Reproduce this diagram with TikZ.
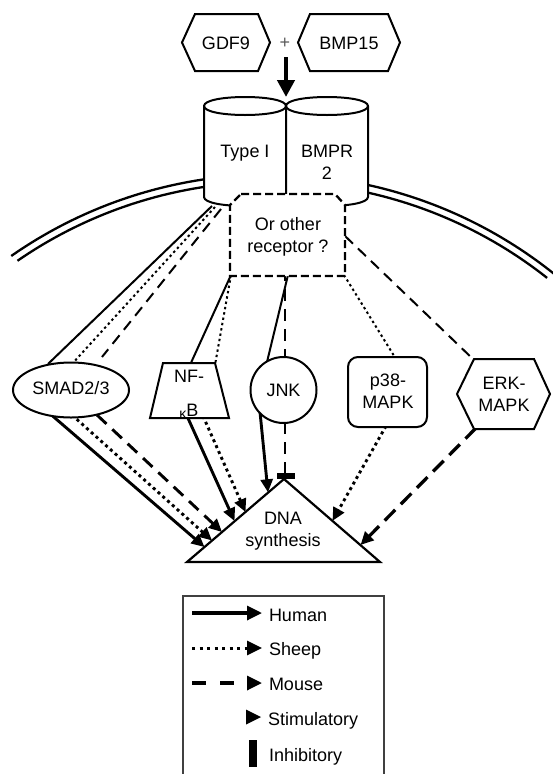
\documentclass[tikz,border=0pt]{standalone}
\usepackage{fontspec}
\setmainfont{Liberation Sans}
\usetikzlibrary{arrows.meta}
\begin{document}
\begin{tikzpicture}[x=1pt,y=-1pt,
  lbl/.style={font=\fontsize{18}{22}\selectfont, align=center, inner sep=0pt, outer sep=0pt},
  shp/.style={draw=black, line width=2pt, fill=white, line join=miter},
  mem/.style={line width=2.3pt},
  thinl/.style={line width=2pt},
  thickl/.style={line width=2.9pt},
  dotl/.style={dash pattern=on 2.4pt off 3pt},
  dotb/.style={dash pattern=on 3pt off 3.4pt},
  dashl/.style={dash pattern=on 11pt off 7pt},
  dashb/.style={dash pattern=on 13pt off 8pt},
  tip/.style={-{Triangle[length=13pt,width=12pt]}},
  ltip/.style={-{Triangle[length=15pt,width=14pt]}},
]
\useasboundingbox (0,0) rectangle (552,774);

% ---- membrane
\draw[mem] plot[domain=51.3:124.9, samples=150, smooth] ({270.7+453.5*cos(\x)},{627.9-453.5*sin(\x)});
\draw[mem] plot[domain=51.7:124.6, samples=150, smooth] ({270.7+446*cos(\x)},{627.9-446*sin(\x)});

% ---- named points
\coordinate (tIa) at (212,206);
\coordinate (tIb) at (215,207);
\coordinate (tIc) at (221,209);
\coordinate (smadA) at (48,364);
\coordinate (smadB) at (72,364);
\coordinate (smadC) at (102,357);
\coordinate (boxBL) at (231,275);
\coordinate (boxBM) at (288,275);
\coordinate (boxBMd) at (285,275);
\coordinate (boxBR) at (344,275);
\coordinate (boxR) at (345,236);
\coordinate (nfA) at (190,365);
\coordinate (nfB) at (215,365);
\coordinate (jnkA) at (267,362);
\coordinate (jnkB) at (285,358);
\coordinate (p38A) at (396,359);
\coordinate (erkA) at (474,360);
% lower
\coordinate (smadD) at (48,412);
\coordinate (smadE) at (72,415);
\coordinate (smadF) at (97,415);
\coordinate (nfC) at (187,416);
\coordinate (nfD) at (203,416);
\coordinate (jnkC) at (260,412);
\coordinate (jnkD) at (285,422);
\coordinate (p38B) at (386,426);
\coordinate (erkB) at (476,428);
\coordinate (dnaA) at (204.5,547);
\coordinate (dnaB) at (212,540.5);
\coordinate (dnaC) at (222,532);
\coordinate (dnaD) at (234.5,521);
\coordinate (dnaE) at (245.5,512);
\coordinate (dnaF) at (268,492.3);
\coordinate (dnaG) at (285,473);
\coordinate (dnaH) at (332.5,520.8);
\coordinate (dnaI) at (360.5,545);

% ---- DNA synthesis triangle
\draw[shp, line width=2.2pt] (284,479) -- (380,562) -- (187,562) -- cycle;
\node[lbl] (dna) at (283,531.5) {DNA\\synthesis};

% ---- lower arrows
\draw[thickl, tip] (smadD) -- (dnaA);
\draw[thickl, tip, dotb] (smadE) -- (dnaB);
\draw[thickl, tip, dashb] (smadF) -- (dnaC);
\draw[thickl, tip] (nfC) -- (dnaD);
\draw[thickl, tip, dotb] (nfD) -- (dnaE);
\draw[thickl, tip] (jnkC) -- (dnaF);
\draw[thickl, dash pattern=on 12pt off 8pt] (jnkD) -- (dnaG);
\fill (276.5,472.5) rectangle (294.5,479);
\draw[thickl, tip, dotb] (p38B) -- (dnaH);
\draw[line width=3.3pt, tip, dash pattern=on 15pt off 8pt] (erkB) -- (dnaI);

% ---- upper connectors
\draw[thinl] (tIa) -- (smadA);
\draw[thinl, dotl] (tIb) -- (smadB);
\draw[thinl, dashl] (tIc) -- (smadC);
\draw[thinl] (boxBL) -- (nfA);
\draw[thinl, dotl] (boxBL) -- (nfB);
\draw[thinl] (boxBM) -- (jnkA);
\draw[thinl, dash pattern=on 12pt off 8pt, dash phase=6pt] (boxBMd) -- (jnkB);
\draw[thinl, dotl] (boxBR) -- (p38A);
\draw[thinl, dashl] (boxR) -- (erkA);

% ---- receptors (cylinders)
\draw[shp] (204,106) -- (204,197) .. controls (204,209) and (286,209) .. (286,197) -- (286,106) .. controls (286,94) and (204,94) .. cycle;
\draw[line width=2pt] (204,106) .. controls (204,118) and (286,118) .. (286,106);
\draw[shp] (286,106) -- (286,197) .. controls (286,209) and (368,209) .. (368,197) -- (368,106) .. controls (368,94) and (286,94) .. cycle;
\draw[line width=2pt] (286,106) .. controls (286,118) and (368,118) .. (368,106);
\node[lbl] (typeI) at (245,153.5) {Type I};
\node[lbl] (bmpr) at (327,162.5) {BMPR\\2};

% ---- other receptor box
\draw[shp, line width=2.3pt, dash pattern=on 8pt off 4pt] (241,194) -- (335,194) -- (345,205) -- (345,276) -- (230,276) -- (230,205) -- cycle;
\node[lbl] (other) at (288,236.5) {Or other\\receptor ?};

% ---- kinases
\draw[shp] (71,390) ellipse [x radius=58pt, y radius=27.5pt];
\node[lbl] (smad) at (71,388.5) {SMAD2/3};
\draw[shp] (163,363) -- (215,363) -- (229,418) -- (150,418) -- cycle;
\node[lbl] (nfkb) at (189,394.5) {NF-\\[12pt]{\fontsize{14}{14}\selectfont\raisebox{-2.5pt}{κ}}B};
\draw[shp] (283.5,390) circle [radius=33pt];
\node[lbl] (jnk) at (283.5,390) {JNK};
\draw[shp, rounded corners=10pt] (348,357) rectangle (427,427);
\node[lbl] (p38) at (388,391.5) {p38-\\MAPK};
\draw[shp] (457,394) -- (474,359) -- (534,359) -- (550,394) -- (534,429) -- (474,429) -- cycle;
\node[lbl] (erk) at (504,394.5) {ERK-\\MAPK};

% ---- ligands
\draw[shp] (182,42.5) -- (195,14) -- (258,14) -- (270,42.5) -- (258,71) -- (195,71) -- cycle;
\node[lbl] (gdf) at (226,43.5) {GDF9};
\draw[shp] (298,42.5) -- (310,14) -- (388,14) -- (400,42.5) -- (388,71) -- (310,71) -- cycle;
\node[lbl] (bmp) at (349,43.5) {BMP15};
\node[lbl, text=black!65] (plus) at (285,43) {+};
\coordinate (ligand) at (286,57);
\coordinate (receptor) at (286,97);
\draw[line width=4.5pt, -{Triangle[length=17pt,width=17pt]}] (ligand) -- (receptor);

% ---- legend
\draw[line width=1.3pt, black!75] (183,776) -- (183,596) -- (384,596) -- (384,776);
\coordinate (h1) at (192,613); \coordinate (h2) at (262,613);
\coordinate (s1) at (192,648); \coordinate (s2) at (262,648);
\coordinate (m1) at (192,683); \coordinate (m2) at (262,683);
\draw[line width=3.3pt, ltip] (h1) -- (h2);
\draw[line width=3pt, ltip, dash pattern=on 3pt off 4.5pt] (s1) -- (s2);
\draw[line width=3.3pt, ltip, dash pattern=on 14pt off 14pt] (m1) -- (m2);
\fill (246,709.5) -- (261,717) -- (246,724.5) -- cycle;
\fill (249,740) rectangle (257,767);
\node[lbl, anchor=base west] (lh) at (269,621) {Human};
\node[lbl, anchor=base west] (ls) at (269,655) {Sheep};
\node[lbl, anchor=base west] (lm) at (269,690) {Mouse};
\node[lbl, anchor=base west] (lst) at (268,725) {Stimulatory};
\node[lbl, anchor=base west] (li) at (269,761) {Inhibitory};
\end{tikzpicture}
\end{document}
